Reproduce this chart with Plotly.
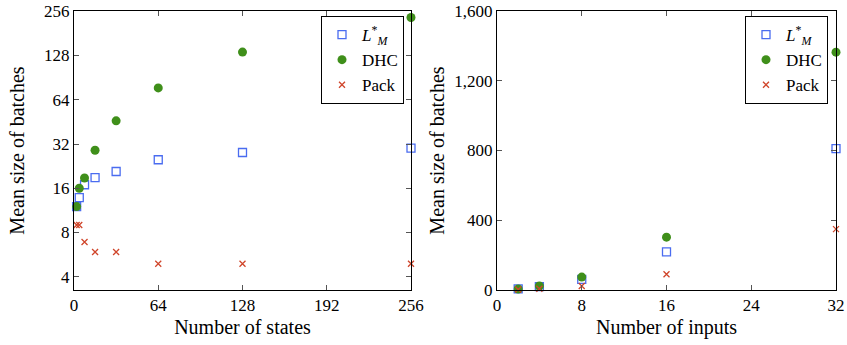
import plotly.graph_objects as go
import numpy as np

# Left panel: number of states
states = [2, 4, 8, 16, 32, 64, 128, 256]
lm_states = [12, 13.8, 16.9, 18.9, 20.8, 25, 28, 30]
dhc_states = [12, 16, 18.8, 29, 46, 77, 135, 232]
pack_states = [9, 9, 6.9, 5.9, 5.9, 4.9, 4.9, 4.9]

# Right panel: number of inputs
inputs = [2, 4, 8, 16, 32]
lm_inputs = [6, 19, 61, 219, 811]
dhc_inputs = [6, 23, 74, 303, 1364]
pack_inputs = [3, 7, 23, 90, 349]

left_yticks = [4, 8, 16, 32, 64, 128, 256]
left_xticks = [0, 64, 128, 192, 256]
right_xticks = [0, 8, 16, 24, 32]
right_yticks = [0, 400, 800, 1200, 1600]
right_yticktext = ["0", "400", "800", "1,200", "1,600"]

BLUE = "#4a6cf0"
GREEN = "#3f8f1a"
RED = "#d0452a"
FONT = "Liberation Serif"
TICK_FS = 17
TITLE_FS = 20
LEG_FS = 17

lm_name = "<i>L</i><sup>*</sup><sub><i>M</i></sub>"

W, H = 847, 345

fig = go.Figure()

def add_series(x, ys, xa, ya, leg):
    fig.add_trace(go.Scatter(x=x, y=ys[0], mode="markers", name=lm_name, xaxis=xa, yaxis=ya,
                             legend=leg,
                             marker=dict(symbol="square-open", size=8, color=BLUE, line=dict(width=1.3, color=BLUE)),
                             cliponaxis=False))
    fig.add_trace(go.Scatter(x=x, y=ys[1], mode="markers", name="DHC", xaxis=xa, yaxis=ya,
                             legend=leg,
                             marker=dict(symbol="circle", size=9, color=GREEN),
                             cliponaxis=False))
    fig.add_trace(go.Scatter(x=x, y=ys[2], mode="markers", name="Pack", xaxis=xa, yaxis=ya,
                             legend=leg,
                             marker=dict(symbol="x-thin-open", size=6, color=RED, line=dict(width=1.3, color=RED)),
                             cliponaxis=False))

add_series(states, (lm_states, dhc_states, pack_states), "x", "y", "legend")
add_series(inputs, (lm_inputs, dhc_inputs, pack_inputs), "x2", "y2", "legend2")

axis_common = dict(showline=True, linecolor="black", linewidth=1, mirror="ticks",
                   ticks="inside", ticklen=5, tickcolor="#555", tickwidth=1,
                   showgrid=False, zeroline=False, automargin=False,
                   ticklabeloverflow="allow",
                   tickfont=dict(family=FONT, size=TICK_FS, color="black"))
title_font = dict(family=FONT, size=TITLE_FS, color="black")

def px_x(x):
    return x / W

ydom = [(H - 290) / H, (H - 11) / H]
legend_common = dict(xanchor="right", yanchor="top", bordercolor="black", borderwidth=1,
                     bgcolor="white", font=dict(family=FONT, size=LEG_FS, color="black"),
                     itemwidth=30, tracegroupgap=0, y=(H - 16) / H)
fig.update_layout(
    width=W, height=H,
    margin=dict(l=0, r=0, t=0, b=0),
    font=dict(family=FONT, color="black"),
    paper_bgcolor="white", plot_bgcolor="white",
    xaxis=dict(domain=[px_x(74), px_x(411)], range=[0, 256], tickvals=left_xticks,
               title=dict(text="Number of states", font=title_font, standoff=5),
               anchor="y", **axis_common),
    yaxis=dict(domain=ydom, type="log", range=[np.log10(3.25), np.log10(257)],
               tickvals=left_yticks, ticktext=[str(v) for v in left_yticks],
               title=dict(text="Mean size of batches", font=title_font, standoff=14),
               anchor="x", **axis_common),
    xaxis2=dict(domain=[px_x(497), px_x(836)], range=[0, 32], tickvals=right_xticks,
                title=dict(text="Number of inputs", font=title_font, standoff=5),
                anchor="y2", **axis_common),
    yaxis2=dict(domain=ydom, range=[0, 1600], tickvals=right_yticks,
                ticktext=right_yticktext,
                title=dict(text="Mean size of batches", font=title_font, standoff=4),
                anchor="x2", **axis_common),
    legend=dict(x=px_x(404), **legend_common),
    legend2=dict(x=px_x(828), **legend_common),
)

# remove the page's default body margin and scrollbars so the figure fills the window exactly
fig.write_html("out.html", config={"displayModeBar": False},
               post_script="document.body.style.margin='0';document.body.style.overflow='hidden';")
